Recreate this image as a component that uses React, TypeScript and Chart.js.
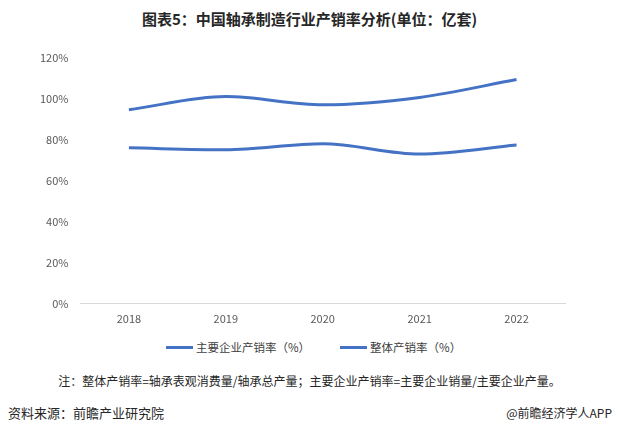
import React, { useEffect, useRef } from "react";
import { Chart, registerables } from "chart.js";

Chart.register(...registerables);

const years = ["2018", "2019", "2020", "2021", "2022"];
const mainEnterpriseRate = [94.6, 101.0, 97.0, 100.6, 109.3];
const overallRate = [76.0, 75.1, 78.0, 73.0, 77.4];
const yTicks = [0, 20, 40, 60, 80, 100, 120];
const seriesNames = ["主要企业产销率（%）", "整体产销率（%）"];

const BLUE = "#4472C4";
const FONT = '"Noto Sans CJK SC", "Noto Sans", sans-serif';

export default function App() {
  const ref = useRef<HTMLCanvasElement>(null);
  useEffect(() => {
    const chart = new Chart(ref.current!, {
      type: "line",
      data: {
        labels: years,
        datasets: [
          {
            label: seriesNames[0],
            data: mainEnterpriseRate,
            borderColor: BLUE,
            backgroundColor: BLUE,
            borderWidth: 3,
            pointRadius: 0,
            cubicInterpolationMode: "monotone",
          },
          {
            label: seriesNames[1],
            data: overallRate,
            borderColor: BLUE,
            backgroundColor: BLUE,
            borderWidth: 3,
            pointRadius: 0,
            cubicInterpolationMode: "monotone",
          },
        ],
      },
      options: {
        responsive: false,
        animation: false,
        maintainAspectRatio: false,
        layout: { padding: { left: 28, right: 54, top: 8, bottom: 0 } },
        plugins: {
          legend: { display: false },
          tooltip: { enabled: false },
        },
        scales: {
          x: {
            offset: true,
            grid: { display: false, drawTicks: false },
            border: { color: "#D9D9D9", width: 1 },
            ticks: { color: "#595959", font: { family: FONT, size: 11 }, padding: 8 },
          },
          y: {
            min: 0,
            max: 120,
            afterBuildTicks: (axis: any) => {
              axis.ticks = yTicks.map((v) => ({ value: v }));
            },
            grid: { display: false, drawTicks: false },
            border: { display: false },
            ticks: {
              color: "#595959",
              font: { family: FONT, size: 11 },
              padding: 12,
              callback: (v: any) => `${v}%`,
            },
          },
        },
      },
    });
    return () => chart.destroy();
  }, []);

  const legendItem = (name: string, ml: number) => (
    <span style={{ display: "inline-flex", alignItems: "center", marginLeft: ml }}>
      <span style={{ display: "inline-block", width: 27, height: 3, background: BLUE, marginRight: 3 }} />
      <span>{name}</span>
    </span>
  );

  return (
    <div
      style={{
        position: "fixed",
        left: 0,
        top: 0,
        width: 619,
        height: 437,
        background: "#fff",
        fontFamily: FONT,
        overflow: "hidden",
      }}
    >
      <div
        style={{
          position: "absolute",
          top: 8,
          left: 0,
          width: 619,
          textAlign: "center",
          fontSize: 15,
          fontWeight: "bold",
          color: "#262626",
          lineHeight: "22px",
        }}
      >
        图表5：中国轴承制造行业产销率分析(单位：亿套)
      </div>
      <canvas
        ref={ref}
        width={619}
        height={294}
        style={{ position: "absolute", left: 0, top: 39, width: 619, height: 294 }}
      />
      <div
        style={{
          position: "absolute",
          top: 338,
          left: 166,
          fontSize: 11.5,
          color: "#404040",
          lineHeight: "18px",
          whiteSpace: "nowrap",
          display: "flex",
        }}
      >
        {legendItem(seriesNames[0], 0)}
        {legendItem(seriesNames[1], 30)}
      </div>
      <div
        style={{
          position: "absolute",
          top: 372,
          left: 0,
          width: 619,
          textAlign: "center",
          fontSize: 12,
          color: "#262626",
          lineHeight: "18px",
          whiteSpace: "nowrap",
        }}
      >
        注：整体产销率=轴承表观消费量/轴承总产量；主要企业产销率=主要企业销量/主要企业产量。
      </div>
      <div
        style={{
          position: "absolute",
          top: 404,
          left: 8,
          fontSize: 13,
          color: "#262626",
          lineHeight: "18px",
        }}
      >
        资料来源：前瞻产业研究院
      </div>
      <div
        style={{
          position: "absolute",
          top: 404,
          right: 7,
          fontSize: 12,
          color: "#262626",
          lineHeight: "18px",
        }}
      >
        @前瞻经济学人APP
      </div>
    </div>
  );
}
